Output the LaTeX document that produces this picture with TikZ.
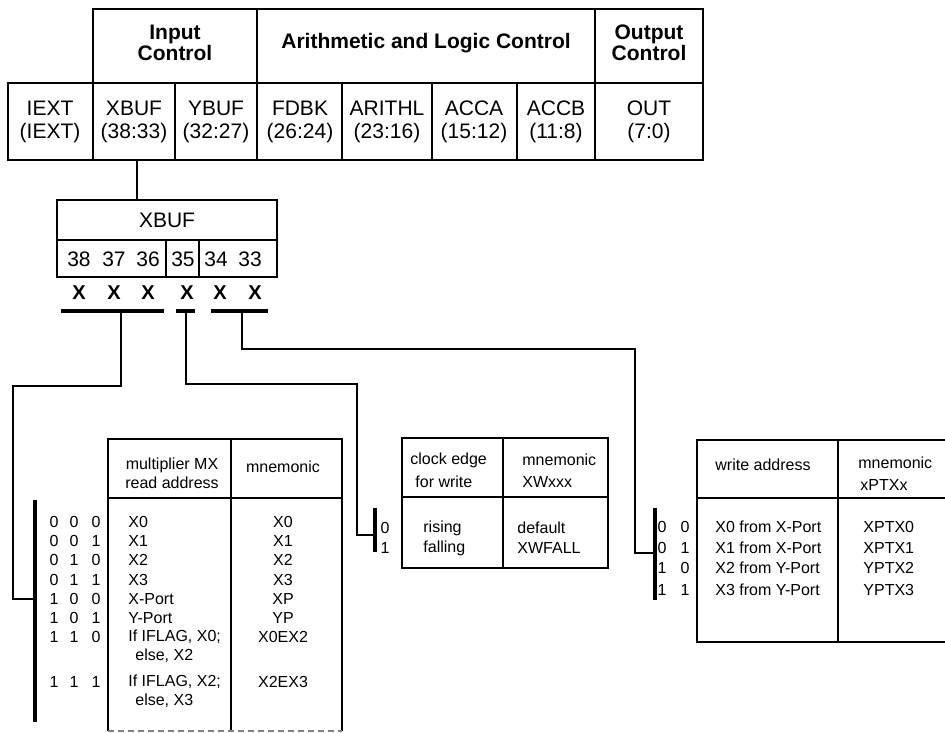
\documentclass[tikz,border=0pt]{standalone}
\usepackage{fontspec}
\setmainfont{Liberation Sans}
\begin{document}
\begin{tikzpicture}[x=0.5pt,y=-0.5pt,
  frame/.style={line width=1.3pt},
  rule/.style={line width=0.8pt},
  wire/.style={line width=0.8pt},
  bar/.style={line width=2.2pt},
  hdr/.style={font=\bfseries\fontsize{10.5}{10.5}\selectfont, align=center},
  fld/.style={font=\fontsize{10.5}{11.5}\selectfont, align=center},
  txt/.style={font=\fontsize{8}{9.6}\selectfont, inner sep=0pt},
  bitmark/.style={font=\bfseries\fontsize{10}{12}\selectfont, inner sep=0pt}]
\useasboundingbox (0,0) rectangle (945,732);

% control word
\draw [frame] (93,9) -- (703,9) -- (703,160) -- (8,160) -- (8,83) -- (93,83) -- cycle;
\draw [rule] (93,83) -- (703,83);
\foreach \x in {257,595} \draw [rule] (\x,9) -- (\x,160);
\foreach \x in {93,175,342,432,517} \draw [rule] (\x,83) -- (\x,160);
\node [hdr] (inctl) at (175,43) {Input\\Control};
\node [hdr] (alctl) at (426,43) {Arithmetic and Logic Control};
\node [hdr] (outctl) at (649,43) {Output\\Control};
\foreach \x/\nm/\bt in {50/IEXT/IEXT, 134/XBUF/38:33, 216/YBUF/32:27, 300/FDBK/26:24,
    387/ARITHL/23:16, 474/ACCA/15:12, 556/ACCB/11:8, 649/OUT/7:0}
  \node [fld] (f\nm) at (\x,122) {\nm\\(\bt)};
\coordinate (cxbuf) at (137,160);

% XBUF field
\draw [frame] (57,200) rectangle (277,277);
\draw [rule] (57,240) -- (277,240);
\draw [rule] (166,240) -- (166,277);
\draw [rule] (199,240) -- (199,277);
\node [fld] (xbuf) at (167,220) {XBUF};
\coordinate (xbuftop) at (137,200);
\draw [wire] (cxbuf) -- (xbuftop);
\foreach \x/\n in {79/38,114/37,148/36,183/35,216/34,250/33}
  \node [fld, inner sep=0pt] (d\n) at (\x,259) {\n};
\foreach \x/\n in {79/38,114/37,148/36,187/35,220/34,255/33}
  \node [bitmark] (x\n) at (\x,293) {X};
\draw [bar] (61,311) -- (164,311);
\draw [bar] (176,311) -- (195,311);
\draw [bar] (211,311) -- (268,311);
\coordinate (b1) at (121,311);
\coordinate (b2) at (186,311);
\coordinate (b3) at (242,311);

% brackets
\draw [bar] (35,500) -- (35,722);
\draw [bar] (375,508) -- (375,552);
\draw [bar] (655,508) -- (655,600);
\coordinate (k1) at (35,599);
\coordinate (k2) at (375,535);
\coordinate (k3) at (655,553);
\draw [wire] (b1) |- (13,386) |- (k1);
\draw [wire] (b2) |- (357,384) |- (k2);
\draw [wire] (b3) |- (635,349) |- (k3);

% MX read address
\draw [frame] (108,731) -- (108,439) -- (342,439) -- (342,731);
\draw [rule] (108,498) -- (342,498);
\draw [rule] (231,439) -- (231,731);
\draw [rule, gray, densely dashed] (108,731) -- (342,731);
\node [txt, align=center] (mxh) at (172,473) {multiplier MX\\read address};
\node [txt] (mxm) at (283,467) {mnemonic};
\foreach \y/\a/\b/\c/\rd/\mn in {522/0/0/0/X0/X0, 541/0/0/1/X1/X1, 560/0/1/0/X2/X2,
    580/0/1/1/X3/X3, 599/1/0/0/X-Port/XP, 618/1/0/1/Y-Port/YP,
    637/1/1/0/{If IFLAG, X0;}/X0EX2, 682/1/1/1/{If IFLAG, X2;}/X2EX3} {
  \node [txt] (s\y a) at (54,\y) {\a};
  \node [txt] (s\y b) at (74,\y) {\b};
  \node [txt] (s\y c) at (96,\y) {\c};
  \node [txt, anchor=west] (r\y) at (128,\y) {\rd};
  \node [txt] (m\y) at (283,\y) {\mn};
}
\node [txt, anchor=west] (r656) at (135,656) {else, X2};
\node [txt, anchor=west] (r701) at (135,701) {else, X3};

% clock edge
\draw [frame] (402,438) rectangle (608,568);
\draw [rule] (402,497) -- (608,497);
\draw [rule] (503,438) -- (503,568);
\node [txt, anchor=west] (ceh) at (410,460) {clock edge};
\node [txt, anchor=west] (ceh2) at (415,482) {for write};
\node [txt, anchor=west] (cem) at (522,460) {mnemonic};
\node [txt, anchor=west] (cem2) at (522,482) {XWxxx};
\foreach \y/\a/\ed/\mn in {528/0/rising/default, 548/1/falling/XWFALL} {
  \node [txt] (e\y) at (385,\y) {\a};
  \node [txt, anchor=west] (c\y) at (423,\y) {\ed};
  \node [txt, anchor=west] (n\y) at (517,\y) {\mn};
}

% write address
\draw [frame] (945,440) -- (697,440) -- (697,642) -- (945,642);
\draw [rule] (697,498) -- (945,498);
\draw [rule] (838,440) -- (838,642);
\node [txt, anchor=west] (wah) at (715,465) {write address};
\node [txt, anchor=west] (wam) at (858,463) {mnemonic};
\node [txt, anchor=west] (wam2) at (860,485) {xPTXx};
\foreach \y/\a/\b/\wr/\mn in {527/0/0/X0 from X-Port/XPTX0, 548/0/1/X1 from X-Port/XPTX1,
    568/1/0/X2 from Y-Port/YPTX2, 590/1/1/X3 from Y-Port/YPTX3} {
  \node [txt] (p\y a) at (662,\y) {\a};
  \node [txt] (p\y b) at (685,\y) {\b};
  \node [txt, anchor=west] (w\y) at (715,\y) {\wr};
  \node [txt, anchor=west] (q\y) at (863,\y) {\mn};
}
\end{tikzpicture}
\end{document}
